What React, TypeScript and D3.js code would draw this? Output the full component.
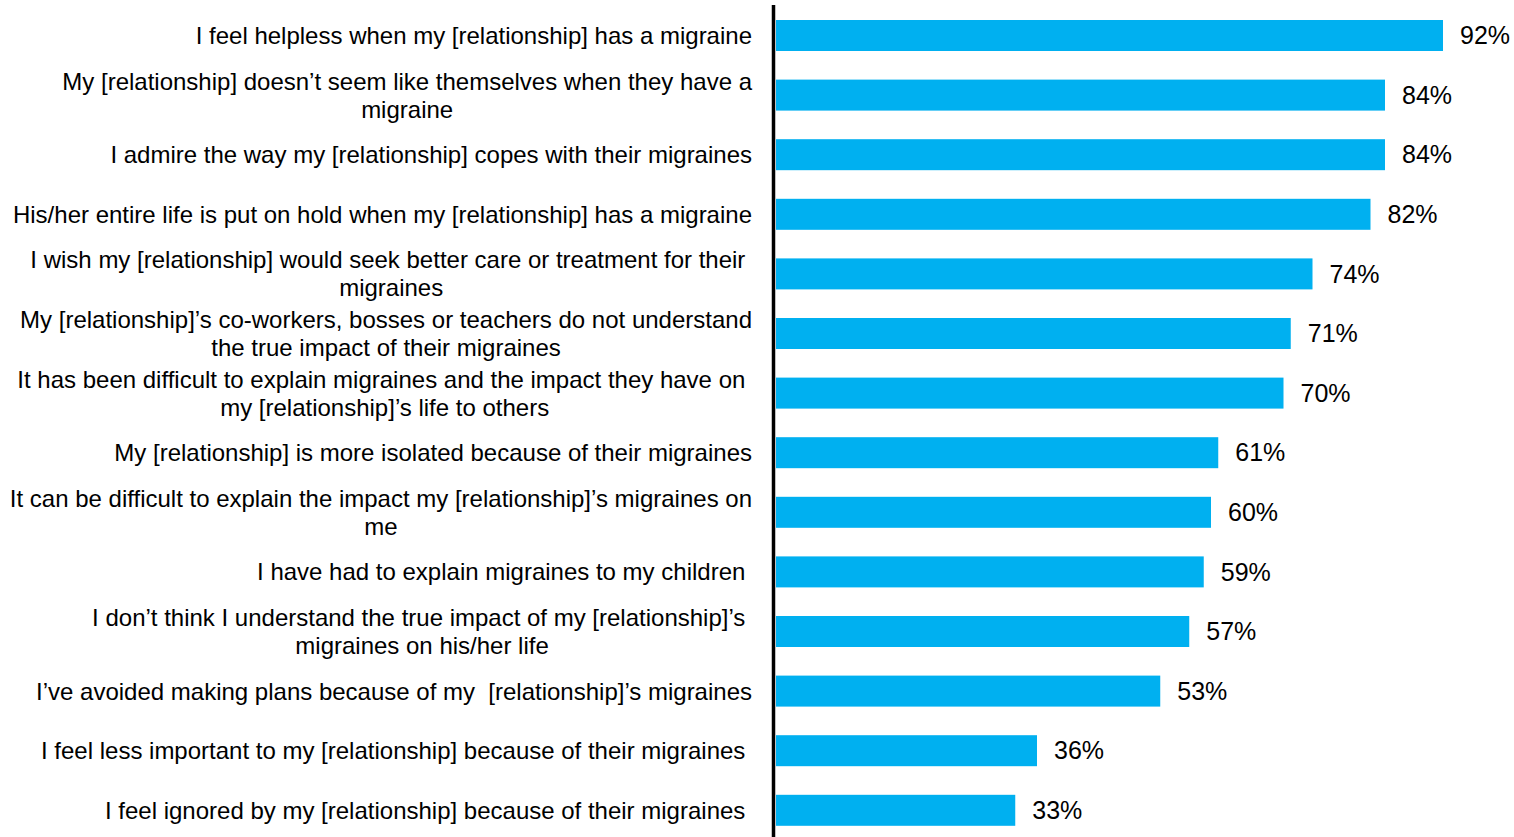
import React, { useEffect, useRef } from "react";
import * as d3 from "d3";

const categories: string[][] = [
  ["I feel helpless when my [relationship] has a migraine"],
  ["My [relationship] doesn\u2019t seem like themselves when they have a", "migraine"],
  ["I admire the way my [relationship] copes with their migraines"],
  ["His/her entire life is put on hold when my [relationship] has a migraine"],
  ["I wish my [relationship] would seek better care or treatment for their ", "migraines"],
  ["My [relationship]\u2019s co-workers, bosses or teachers do not understand", "the true impact of their migraines"],
  ["It has been difficult to explain migraines and the impact they have on ", "my [relationship]\u2019s life to others"],
  ["My [relationship] is more isolated because of their migraines"],
  ["It can be difficult to explain the impact my [relationship]\u2019s migraines on", "me"],
  ["I have had to explain migraines to my children "],
  ["I don\u2019t think I understand the true impact of my [relationship]\u2019s ", "migraines on his/her life"],
  ["I\u2019ve avoided making plans because of my  [relationship]\u2019s migraines"],
  ["I feel less important to my [relationship] because of their migraines "],
  ["I feel ignored by my [relationship] because of their migraines "],
];
const values: number[] = [92, 84, 84, 82, 74, 71, 70, 61, 60, 59, 57, 53, 36, 33];

const W = 1514;
const H = 837;
const FONT = "Arial, 'Liberation Sans', sans-serif";

export default function App() {
  const ref = useRef<SVGSVGElement>(null);
  useEffect(() => {
    const svg = d3.select(ref.current);
    svg.selectAll("*").remove();
    const x0 = 776;
    const x = d3.scaleLinear().domain([0, 100]).range([x0, x0 + 725]);
    const idx = categories.map((_, i) => String(i));
    const y = d3.scaleBand().domain(idx).range([5.7, 5.7 + 59.6 * 14]).paddingInner(0.48).paddingOuter(0.24);

    svg
      .append("g")
      .selectAll("rect")
      .data(values)
      .join("rect")
      .attr("x", x(0))
      .attr("y", (_, i) => y(String(i))!)
      .attr("width", (d) => x(d) - x(0))
      .attr("height", y.bandwidth())
      .attr("fill", "#00B0F0");

    svg
      .append("g")
      .selectAll("text")
      .data(values)
      .join("text")
      .attr("x", (d) => x(d) + 17)
      .attr("y", (_, i) => y(String(i))! + y.bandwidth() / 2)
      .attr("dy", "0.35em")
      .attr("font-family", FONT)
      .attr("font-size", 25)
      .attr("fill", "#000")
      .text((d) => `${d}%`);

    const labelRight = 752;
    const lineH = 28;
    const lg = svg.append("g");
    categories.forEach((lines, i) => {
      const cy = y(String(i))! + y.bandwidth() / 2;
      const g = lg.append("g");
      const texts = lines.map((ln, j) =>
        g
          .append("text")
          .attr("font-family", FONT)
          .attr("font-size", 24)
          .attr("fill", "#000")
          .style("white-space", "pre")
          .attr("y", cy + (j - (lines.length - 1) / 2) * lineH)
          .attr("dy", "0.35em")
          .text(ln)
      );
      const widths = texts.map((t) => (t.node() as SVGTextElement).getComputedTextLength());
      const maxW = Math.max(...widths);
      const center = labelRight - maxW / 2;
      texts.forEach((t) => t.attr("x", center).attr("text-anchor", "middle"));
    });

    svg
      .append("line")
      .attr("x1", 773.5)
      .attr("x2", 773.5)
      .attr("y1", 5)
      .attr("y2", H)
      .attr("stroke", "#000")
      .attr("stroke-width", 3.5);
  }, []);
  return (
    <svg
      ref={ref}
      width={W}
      height={H}
      style={{ position: "absolute", left: 0, top: 0, background: "#fff" }}
    />
  );
}
